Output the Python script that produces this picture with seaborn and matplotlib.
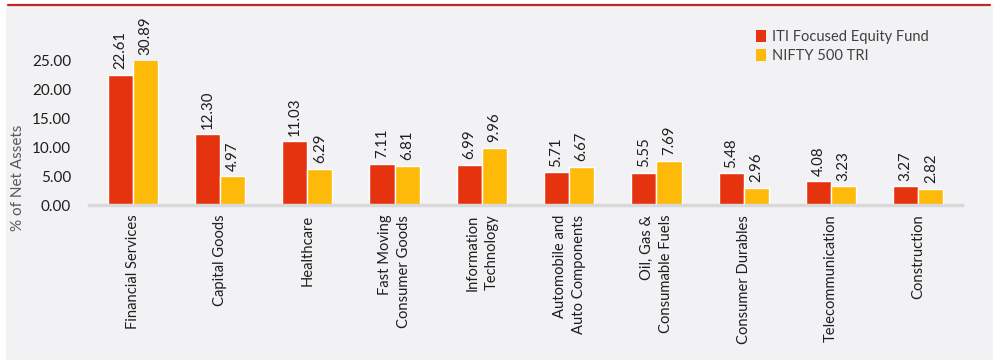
import matplotlib
matplotlib.use("Agg")
import matplotlib.pyplot as plt
import seaborn as sns
import pandas as pd
from matplotlib.patches import Rectangle, Patch
from matplotlib.lines import Line2D

categories = ["Financial Services", "Capital Goods", "Healthcare",
              "Fast Moving\nConsumer Goods", "Information\nTechnology",
              "Automobile and\nAuto Components", "Oil, Gas &\nConsumable Fuels",
              "Consumer Durables", "Telecommunication", "Construction"]
iti_fund = [22.61, 12.30, 11.03, 7.11, 6.99, 5.71, 5.55, 5.48, 4.08, 3.27]
nifty500 = [30.89, 4.97, 6.29, 6.81, 9.96, 6.67, 7.69, 2.96, 3.23, 2.82]
series_names = ["ITI Focused Equity Fund", "NIFTY 500 TRI"]
yticks = [0, 5, 10, 15, 20, 25]
ytick_labels = ["0.00", "5.00", "10.00", "15.00", "20.00", "25.00"]

RED = "#E5320F"
YELLOW = "#FDBA08"
BG = "#F2F2F4"

df = pd.DataFrame({
    "category": categories * 2,
    "value": iti_fund + nifty500,
    "series": [series_names[0]] * len(categories) + [series_names[1]] * len(categories),
})

sns.set_theme(style="white")
plt.rcParams["font.family"] = ["Lato", "DejaVu Sans"]

W, H = 998, 363
fig = plt.figure(figsize=(W / 100, H / 100), dpi=100)
fig.patch.set_facecolor("white")
fig.add_artist(Rectangle((6 / W, 1 - 360 / H), (993 - 6) / W, (360 - 5) / H,
                         transform=fig.transFigure, facecolor=BG, edgecolor="none", zorder=-10))
fig.add_artist(Line2D([8 / W, 990 / W], [1 - 5 / H, 1 - 5 / H], transform=fig.transFigure,
                      color="#C0272D", lw=1.6))

ax = fig.add_axes([89 / W, 1 - 205 / H, 873 / W, 144 / H])
ax.set_facecolor("none")
sns.barplot(data=df, x="category", y="value", hue="series", order=categories,
            hue_order=series_names, palette=[RED, YELLOW], width=0.575,
            saturation=1, ax=ax, legend=False, gap=0)

ymax = 25
ax.set_ylim(0, ymax)
ax.set_xlim(-0.5, len(categories) - 0.5)
ax.set_yticks(yticks)
ax.set_yticklabels(ytick_labels, fontsize=11, color="#1E1E1E")
ax.set_xticks(range(len(categories)))
ax.set_xticklabels(categories, rotation=90, ha="center", va="top",
                   multialignment="right", fontsize=10.6, color="#1E1E1E",
                   linespacing=1.45)
ax.tick_params(axis="x", length=0, pad=7)
ax.tick_params(axis="y", length=0, pad=13)
ax.set_xlabel("")
ax.set_ylabel("")
for s in ["top", "right", "left"]:
    ax.spines[s].set_visible(False)
ax.spines["bottom"].set_color("#D9D9D9")
ax.spines["bottom"].set_linewidth(2.5)

for cont in ax.containers:
    for p in cont:
        h = p.get_height()
        top = min(h, ymax)
        ax.annotate(f"{h:.2f}", (p.get_x() + p.get_width() / 2, top),
                    xytext=(0, 4), textcoords="offset points", rotation=90,
                    ha="center", va="bottom", fontsize=10.8, color="#1E1E1E",
                    annotation_clip=False)

fig.text(18 / W, 1 - 178 / H, "% of Net Assets", rotation=90, ha="center", va="center",
         fontsize=11, color="#595959")

handles = [Patch(facecolor=RED, edgecolor="none"), Patch(facecolor=YELLOW, edgecolor="none")]
fig.legend(handles, series_names, loc="upper left", bbox_to_anchor=(750 / W, 1 - 24 / H),
           frameon=False, fontsize=10.5, handlelength=0.7, handleheight=0.9,
           handletextpad=0.4, labelspacing=0.35, labelcolor="#404040", borderaxespad=0)

fig.savefig("out.png", dpi=100, facecolor="white")
